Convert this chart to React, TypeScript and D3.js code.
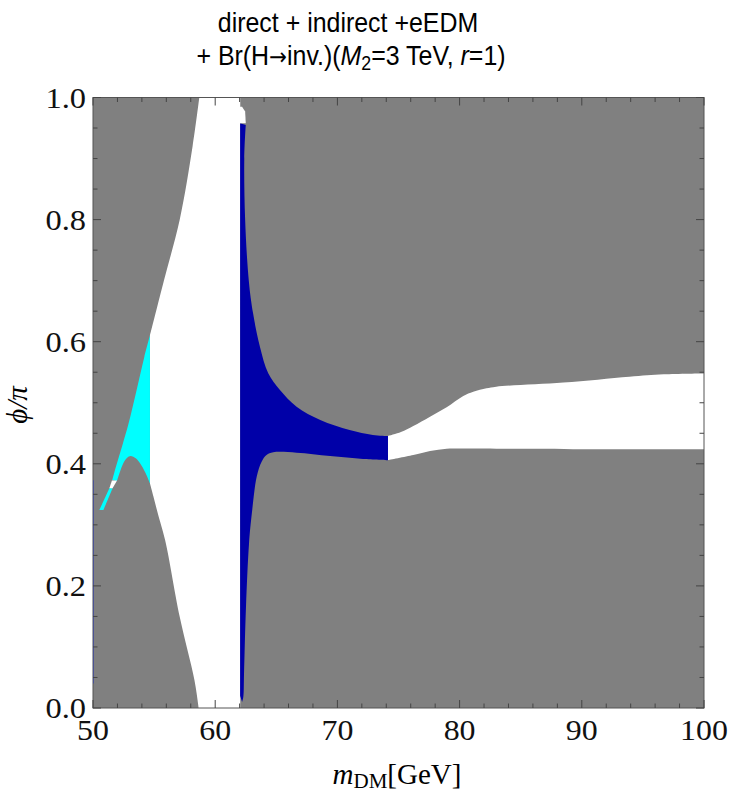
import React from "react";
import * as d3 from "d3";

// boundaries, as [m_DM, phi/pi]
const whiteLeftEdge: [number, number][] = [
  [58.7, 1.0], [58.15, 0.92], [57.1, 0.8], [55.8, 0.7], [54.66, 0.61],
];
const bumpRightEdge: [number, number][] = [
  [54.66, 0.368], [54.95, 0.346], [55.3, 0.319], [55.9, 0.275], [57.1, 0.149], [58.3, 0.046], [58.65, 0.0],
];
const whiteRightEdge = 62.05;

const cyanLeftEdge: [number, number][] = [
  [54.66, 0.61], [54.2, 0.575], [53.57, 0.521], [52.9, 0.465], [52.4, 0.43], [51.95, 0.4], [51.58, 0.3735],
];
const cyanBumpEdge: [number, number][] = [
  [51.97, 0.372], [52.48, 0.401], [52.8, 0.41], [53.08, 0.4128], [53.5, 0.409], [53.85, 0.401], [54.3, 0.385], [54.66, 0.368],
];
const cyanPiece: [number, number][] = [
  [51.34, 0.36], [51.6, 0.36], [50.85, 0.3243], [50.52, 0.3243],
];
const cyanGap: [number, number][] = [
  [51.55, 0.3725], [51.97, 0.3725], [51.6, 0.36], [51.34, 0.36],
];

const blueUpperEdge: [number, number][] = [
  [62.5, 0.955], [62.38, 0.9], [62.45, 0.8], [62.75, 0.7], [63.1, 0.6465], [63.66, 0.5918], [64.34, 0.5482],
  [65.3, 0.5209], [66.66, 0.4935], [68.6, 0.4717], [71.0, 0.4554], [72.9, 0.4472], [74.14, 0.4455],
];
const blueLowerEdge: [number, number][] = [
  [74.14, 0.406], [72.1, 0.408], [69.4, 0.4128], [66.66, 0.4182], [64.75, 0.4188], [64.2, 0.4144], [63.8, 0.4035],
  [63.4, 0.379], [63.0, 0.319], [62.77, 0.27], [62.52, 0.166], [62.36, 0.057], [62.3, 0.018], [62.2, 0.01],
];
const blobTop: [number, number][] = [
  [62.0, 0.958], [62.5, 0.958], [62.45, 0.977], [62.2, 0.985], [62.0, 0.985],
];

const bandUpperEdge: [number, number][] = [
  [74.14, 0.4455], [75.2, 0.452], [76.21, 0.4619], [77.58, 0.4772], [78.94, 0.4925], [80.3, 0.511],
  [81.12, 0.518], [82.2, 0.5236], [83.0, 0.5263], [88.5, 0.533], [93.9, 0.5427], [96.7, 0.5466], [100, 0.548],
];
const bandLowerEdge: [number, number][] = [
  [100, 0.4237], [90, 0.424], [80.3, 0.425], [78.94, 0.4248], [77.58, 0.421], [76.21, 0.4144], [74.14, 0.406],
];
const blueAxisLine: [number, number][] = [[50, 0.04], [50, 0.373]];

const xMajor = [50, 60, 70, 80, 90, 100];
const yMajor = [0, 0.2, 0.4, 0.6, 0.8, 1.0];

const W = 730;
const H = 794;
const left = 93, right = 704, top = 97.5, bottom = 708;

const x = d3.scaleLinear().domain([50, 100]).range([left, right]);
const y = d3.scaleLinear().domain([0, 1]).range([bottom, top]);

const smooth = d3.line<[number, number]>().x((d) => x(d[0])).y((d) => y(d[1])).curve(d3.curveCatmullRom.alpha(0.5));
const straight = d3.line<[number, number]>().x((d) => x(d[0])).y((d) => y(d[1]));

// join several pieces into one closed path
function shape(...parts: { pts: [number, number][]; curved?: boolean }[]) {
  let s = "";
  parts.forEach((p, i) => {
    const seg = (p.curved ? smooth : straight)(p.pts) || "";
    s += i === 0 ? seg : "L" + seg.slice(1);
  });
  return s + "Z";
}

const GRAY = "#808080";
const BLUE = "#0000a8";
const CYAN = "#00ffff";

export default function App() {
  const whitePath = shape(
    { pts: whiteLeftEdge, curved: true },
    { pts: bumpRightEdge, curved: true },
    { pts: [[58.65, 0], [whiteRightEdge, 0], [whiteRightEdge, 1]] }
  );
  const cyanPath = shape(
    { pts: cyanLeftEdge, curved: true },
    { pts: cyanBumpEdge, curved: true },
    { pts: [[54.66, 0.368], [54.66, 0.61]] }
  );
  const bluePath = shape(
    { pts: blueUpperEdge, curved: true },
    { pts: blueLowerEdge, curved: true },
    { pts: [[62.2, 0.01], [62.04, 0.02], [62.04, 0.958], [62.5, 0.955]] }
  );
  const bandPath = shape(
    { pts: bandUpperEdge, curved: true },
    { pts: bandLowerEdge, curved: true }
  );

  const xMinor = d3.range(50, 100.01, 2).filter((v) => !xMajor.includes(v));
  const yMinor = d3.range(0, 1.001, 0.05).map((v) => +v.toFixed(2)).filter((v) => !yMajor.some((m) => Math.abs(m - v) < 1e-6));
  const tick = "#444";

  return (
    <svg width={W} height={H} style={{ position: "absolute", left: 0, top: 0, background: "#fff" }}>
      <defs>
        <clipPath id="plot">
          <rect x={left} y={top} width={right - left} height={bottom - top} />
        </clipPath>
      </defs>
      <g clipPath="url(#plot)">
        <rect x={left} y={top} width={right - left} height={bottom - top} fill={GRAY} />
        <path d={whitePath} fill="#fff" />
        <path d={cyanPath} fill={CYAN} />
        <path d={straight(cyanPiece) + "Z"} fill={CYAN} />
        <path d={straight(cyanGap) + "Z"} fill="#fff" />
        <path d={bluePath} fill={BLUE} />
        <path d={straight(blobTop) + "Z"} fill="#fff" />
        <path d={bandPath} fill="#fff" />
        <path d={straight(blueAxisLine) || ""} stroke="#4050d0" strokeWidth={2} fill="none" />
      </g>
      <rect x={left} y={top} width={right - left} height={bottom - top} fill="none" stroke="#555" strokeWidth={1} />
      {/* ticks, pointing inward on all four sides */}
      <g stroke={tick} strokeWidth={1}>
        {xMajor.map((v) => (
          <g key={"xM" + v}>
            <line x1={x(v)} x2={x(v)} y1={bottom} y2={bottom - 8} />
            <line x1={x(v)} x2={x(v)} y1={top} y2={top + 8} />
          </g>
        ))}
        {xMinor.map((v) => (
          <g key={"xm" + v}>
            <line x1={x(v)} x2={x(v)} y1={bottom} y2={bottom - 4.5} />
            <line x1={x(v)} x2={x(v)} y1={top} y2={top + 4.5} />
          </g>
        ))}
        {yMajor.map((v) => (
          <g key={"yM" + v}>
            <line x1={left} x2={left + 8} y1={y(v)} y2={y(v)} />
            <line x1={right} x2={right - 8} y1={y(v)} y2={y(v)} />
          </g>
        ))}
        {yMinor.map((v) => (
          <g key={"ym" + v}>
            <line x1={left} x2={left + 4.5} y1={y(v)} y2={y(v)} />
            <line x1={right} x2={right - 4.5} y1={y(v)} y2={y(v)} />
          </g>
        ))}
      </g>
      <g fontFamily="'Liberation Serif', serif" fontSize={29} fill="#111">
        {xMajor.map((v) => (
          <text key={"xl" + v} transform={`translate(${x(v)},${bottom + 32}) scale(1.1,1)`} textAnchor="middle">
            {v}
          </text>
        ))}
        {yMajor.map((v) => (
          <text key={"yl" + v} transform={`translate(${left - 7},${y(v) + 10}) scale(1.12,1)`} textAnchor="end">
            {v.toFixed(1)}
          </text>
        ))}
      </g>
      <text x={397} y={784} textAnchor="middle" fontFamily="'Liberation Serif', serif" fontSize={29}>
        <tspan fontStyle="italic">m</tspan>
        <tspan fontSize={21} dy={4}>DM</tspan>
        <tspan dy={-4}>[GeV]</tspan>
      </text>
      <text
        transform={`translate(27,405) rotate(-90)`}
        textAnchor="middle"
        fontFamily="'Liberation Serif', serif"
        fontSize={29}
        fontStyle="italic"
      >
        ϕ/π
      </text>
      <g fontFamily="'Liberation Sans', Arial, sans-serif" fontSize={28} textAnchor="middle">
        <text transform="translate(348,32) scale(0.89,1)">direct + indirect +eEDM</text>
        <text transform="translate(351,65) scale(0.89,1)">
          + Br(H<tspan fontFamily="'DejaVu Sans', sans-serif" fontSize={24}>→</tspan>inv.)(<tspan fontStyle="italic">M</tspan>
          <tspan fontSize={20} dy={5}>2</tspan>
          <tspan dy={-5}>=3 TeV, </tspan>
          <tspan fontStyle="italic">r</tspan>=1)
        </text>
      </g>
    </svg>
  );
}
